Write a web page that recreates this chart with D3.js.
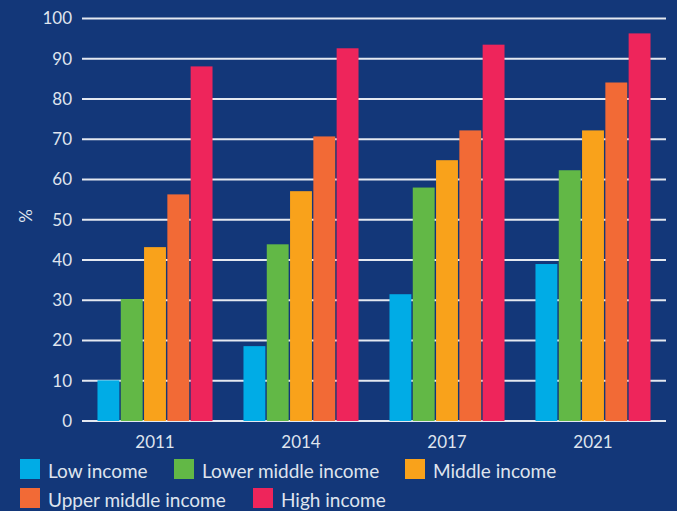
<!DOCTYPE html>
<html>
<head>
<meta charset="utf-8">
<script src="https://cdn.jsdelivr.net/npm/d3@7"></script>
<style>
  html, body { margin: 0; padding: 0; background: #133779; }
  svg { display: block; font-family: Lato, "Noto Sans", sans-serif; }
</style>
</head>
<body>
<div id="chart"></div>
<script>
// Data
const years = ["2011", "2014", "2017", "2021"];
const seriesNames = ["Low income", "Lower middle income", "Middle income", "Upper middle income", "High income"];
const lowIncome = [10.1, 18.6, 31.5, 39.0];
const lowerMiddle = [30.3, 43.9, 58.0, 62.3];
const middle = [43.2, 57.1, 64.8, 72.2];
const upperMiddle = [56.3, 70.7, 72.2, 84.1];
const highIncome = [88.1, 92.6, 93.5, 96.3];
const yTicks = [0, 10, 20, 30, 40, 50, 60, 70, 80, 90, 100];

const colors = ["#00ace6", "#62b846", "#f9a21b", "#f26a36", "#ee255b"];
const series = [lowIncome, lowerMiddle, middle, upperMiddle, highIncome];

const W = 677, H = 511;
const margin = { top: 18.5, right: 11, bottom: 90, left: 82 };
const width = W - margin.left - margin.right;
const height = H - margin.top - margin.bottom;

const svg = d3.select('#chart').append('svg')
    .attr('width', W)
    .attr('height', H);

svg.append('rect').attr('width', W).attr('height', H).attr('fill', '#133779');

const g = svg.append('g')
    .attr('transform', `translate(${margin.left},${margin.top})`);

const x0 = d3.scaleBand()
    .domain(years)
    .range([0, width])
    .paddingInner(0.212)
    .paddingOuter(0.106);

const x1 = d3.scaleBand()
    .domain(d3.range(seriesNames.length))
    .range([0, x0.bandwidth()])
    .paddingInner(0.06);

const y = d3.scaleLinear()
    .domain([0, 100])
    .range([height, 0]);

// gridlines
g.append('g')
    .selectAll('line')
    .data(yTicks)
    .join('line')
    .attr('x1', 0)
    .attr('x2', width)
    .attr('y1', d => y(d))
    .attr('y2', d => y(d))
    .attr('stroke', '#e4e8f0')
    .attr('stroke-width', 2);

// y axis labels
g.append('g')
    .call(d3.axisLeft(y).tickValues(yTicks).tickSize(0).tickPadding(10))
    .call(a => a.select('.domain').remove())
    .selectAll('text')
    .attr('fill', '#dfe4ee')
    .style('font-size', '17px')
    .style('font-family', 'Lato, "Noto Sans", sans-serif');

// bars
const groups = g.selectAll('.year')
    .data(years)
    .join('g')
    .attr('class', 'year')
    .attr('transform', d => `translate(${x0(d)},0)`);

groups.selectAll('rect')
    .data((d, i) => series.map((s, k) => ({ k, v: s[i] })))
    .join('rect')
    .attr('x', d => x1(d.k))
    .attr('width', x1.bandwidth())
    .attr('y', d => y(d.v))
    .attr('height', d => height - y(d.v))
    .attr('fill', d => colors[d.k]);

// x axis labels
g.append('g')
    .attr('transform', `translate(0,${height})`)
    .call(d3.axisBottom(x0).tickSize(0).tickPadding(15))
    .call(a => a.select('.domain').remove())
    .selectAll('text')
    .attr('fill', '#dfe4ee')
    .style('font-size', '17px')
    .style('font-family', 'Lato, "Noto Sans", sans-serif');

// y title
svg.append('text')
    .attr('transform', 'translate(32,216) rotate(-90)')
    .attr('text-anchor', 'middle')
    .attr('fill', '#dfe4ee')
    .style('font-size', '17px')
    .text('%');

// legend
const legendPos = [[20, 459], [174, 459], [405, 459], [20, 488], [253, 488]];
const legend = svg.append('g')
    .selectAll('g')
    .data(seriesNames)
    .join('g')
    .attr('transform', (d, i) => `translate(${legendPos[i][0]},${legendPos[i][1]})`);

legend.append('rect')
    .attr('width', 20)
    .attr('height', 20)
    .attr('fill', (d, i) => colors[i]);

legend.append('text')
    .attr('x', 28)
    .attr('y', 19)
    .attr('fill', '#dfe4ee')
    .style('font-size', '19px')
    .text(d => d);
</script>
</body>
</html>
